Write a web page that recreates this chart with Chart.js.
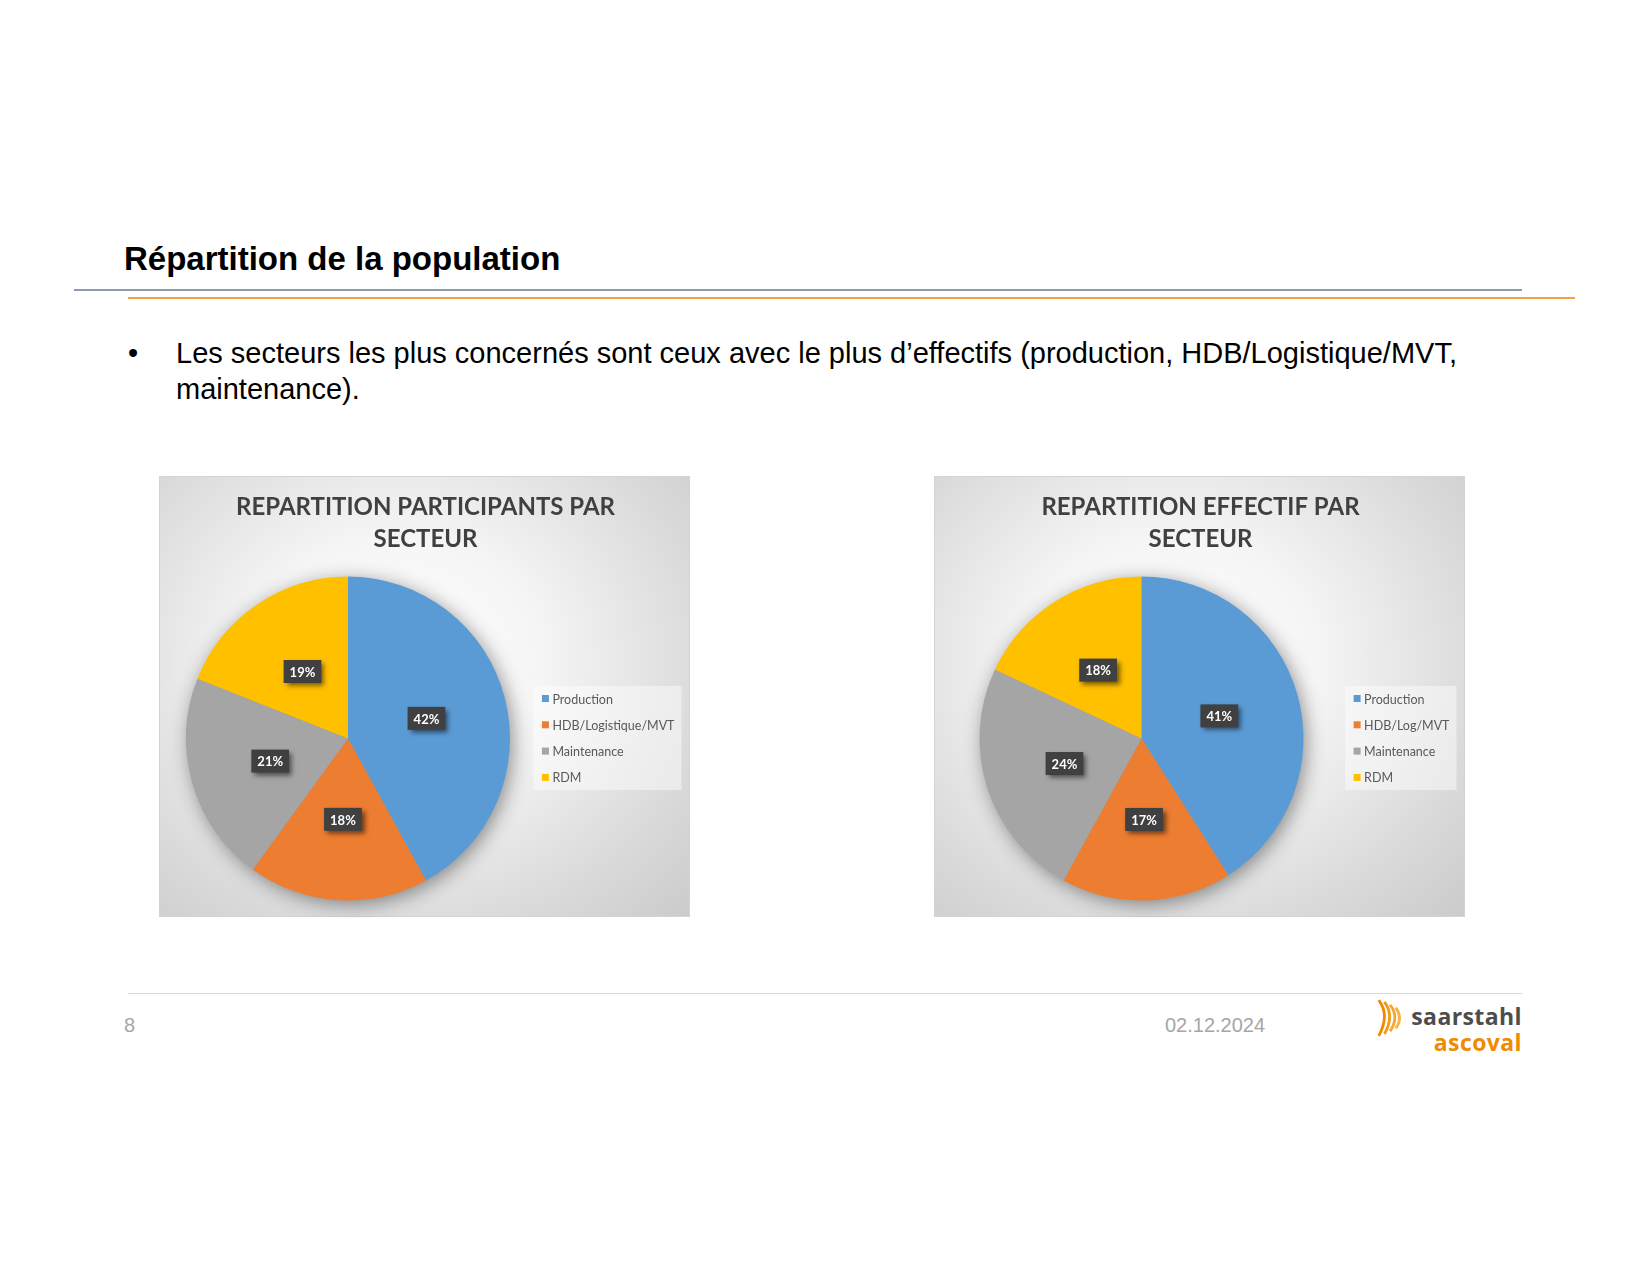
<!DOCTYPE html>
<html>
<head>
<meta charset="utf-8">
<script src="https://cdn.jsdelivr.net/npm/chart.js@4/dist/chart.umd.min.js"></script>
<style>
body{margin:0;width:1650px;height:1275px;background:#fff;position:relative;overflow:hidden;font-family:"Liberation Sans",Arial,sans-serif;}
.abs{position:absolute;}
#slideTitle{left:124px;top:239px;font-size:33px;font-weight:bold;line-height:40px;color:#000;}
#line1{left:74px;top:289px;width:1448px;height:2px;background:#8a9bb3;}
#line2{left:128px;top:297px;width:1447px;height:2px;background:#f3a04a;}
#bullet{left:128px;top:335px;font-size:29px;line-height:36px;}
#btext{left:176px;top:335px;font-size:29px;line-height:36px;width:1440px;}
.box{top:476px;width:531px;height:441px;border:1px solid #d4d4d4;box-sizing:border-box;
background:radial-gradient(ellipse at 45% 42%,#ffffff 0%,#f5f5f5 35%,#dadada 75%,#cbcbcb 100%);}
#foot{left:128px;top:993px;width:1394px;height:1px;background:#d9d9d9;}
#page{left:124px;top:1014px;font-size:20px;color:#a6a6a6;}
#date{left:1165px;top:1014px;font-size:20px;color:#a6a6a6;}
#logo1{right:128px;top:1002px;font-family:"Open Sans",sans-serif;font-weight:bold;font-size:23px;color:#4d4d4d;line-height:28px;letter-spacing:0.4px;}
#logo2{right:128px;top:1028px;font-family:"Open Sans",sans-serif;font-weight:bold;font-size:23px;color:#f08a00;line-height:28px;letter-spacing:0.4px;}
</style>
</head>
<body>
<div id="slideTitle" class="abs">Répartition de la population</div>
<div id="line1" class="abs"></div>
<div id="line2" class="abs"></div>
<div id="bullet" class="abs">•</div>
<div id="btext" class="abs">Les secteurs les plus concernés sont ceux avec le plus d’effectifs (production, HDB/Logistique/MVT,<br>maintenance).</div>

<div class="abs box" style="left:159px"><canvas id="c1" width="531" height="441"></canvas></div>
<div class="abs box" style="left:934px"><canvas id="c2" width="531" height="441"></canvas></div>

<div id="foot" class="abs"></div>
<div id="page" class="abs">8</div>
<div id="date" class="abs">02.12.2024</div>
<svg class="abs" style="left:1375px;top:998px" width="34" height="40" viewBox="0 0 36 42">
<path d="M4 2 Q16 18 4 40" stroke="#f08a00" stroke-width="3" fill="none"/>
<path d="M10 4 Q21 19 10 38" stroke="#f39a1a" stroke-width="3" fill="none"/>
<path d="M16 7 Q26 20 16 35" stroke="#f5a830" stroke-width="3" fill="none"/>
<path d="M22 10 Q30 21 22 32" stroke="#f7b648" stroke-width="3" fill="none"/>
</svg>
<div id="logo1" class="abs">saarstahl</div>
<div id="logo2" class="abs">ascoval</div>

<script>
// chart data
const sectorsParticipants=["Production","HDB/Logistique/MVT","Maintenance","RDM"];
const sectorsEffectif=["Production","HDB/Log/MVT","Maintenance","RDM"];
const participants=[42,18,21,19];
const effectif=[41,17,24,18];
const titleParticipants=["REPARTITION PARTICIPANTS PAR","SECTEUR"];
const titleEffectif=["REPARTITION EFFECTIF PAR","SECTEUR"];

const sliceColors=["#5b9bd5","#ed7d31","#a5a5a5","#ffc000"];

const decor={
id:"decor",

beforeDatasetsDraw(chart){
const ctx=chart.ctx;
const arc=chart.getDatasetMeta(0).data[0];
ctx.save();
ctx.shadowColor="rgba(0,0,0,0.45)";
ctx.shadowBlur=20;
ctx.shadowOffsetX=3;
ctx.shadowOffsetY=4;
ctx.beginPath();
ctx.arc(arc.x,arc.y,arc.outerRadius-1,0,Math.PI*2);
ctx.fillStyle="#999";
ctx.fill();
ctx.restore();
},

afterDatasetsDraw(chart,args,opts){
const ctx=chart.ctx;
const meta=chart.getDatasetMeta(0);
const values=chart.data.datasets[0].data;

// labels
ctx.save();
ctx.font="bold 13px Lato";
ctx.textAlign="center";
ctx.textBaseline="middle";
meta.data.forEach((arc,i)=>{
const p=arc.tooltipPosition();
const txt=values[i]+"%";
const w=ctx.measureText(txt).width+12;
const h=23;
ctx.save();
ctx.shadowColor="rgba(0,0,0,0.55)";
ctx.shadowBlur=5;
ctx.shadowOffsetX=3;
ctx.shadowOffsetY=3;
ctx.fillStyle="#404040";
ctx.fillRect(p.x-w/2,p.y-h/2,w,h);
ctx.restore();
ctx.fillStyle="#fff";
ctx.fillText(txt,p.x,p.y+1);
});
ctx.restore();

// title
ctx.save();
ctx.font="bold 24px Lato";
ctx.fillStyle="#404040";
ctx.textAlign="center";
ctx.textBaseline="middle";
opts.title.forEach((t,i)=>{
ctx.fillText(t,chart.width/2,30+i*32.6);
});
ctx.restore();

// legend
ctx.save();
ctx.font="12.5px Lato";
const labels=chart.data.labels;
let maxW=0;
labels.forEach(l=>{maxW=Math.max(maxW,ctx.measureText(l).width);});
const right=chart.width-9.5;
const left=right-7-maxW-19;
const top=209;
const step=26.3;
ctx.fillStyle="rgba(255,255,255,0.45)";
ctx.fillRect(left,top,right-left,104);
ctx.textBaseline="middle";
labels.forEach((l,i)=>{
const y=top+12.5+i*step;
ctx.fillStyle=sliceColors[i];
ctx.fillRect(left+8.5,y-3.5,7,7);
ctx.fillStyle="#595959";
ctx.fillText(l,left+19,y+1);
});
ctx.restore();
}
};

function makePie(id,labels,values,title,padLeft){
new Chart(document.getElementById(id),{
type:"pie",
data:{
labels:labels,
datasets:[{
data:values,
backgroundColor:sliceColors,
borderWidth:0
}]
},
options:{
responsive:false,
animation:false,
layout:{
padding:{left:padLeft,top:99.5,right:207-padLeft,bottom:17.5}
},
plugins:{
legend:{display:false},
tooltip:{enabled:false},
decor:{title:title}
}
},
plugins:[decor]
});
}

makePie("c1",sectorsParticipants,participants,titleParticipants,26);
makePie("c2",sectorsEffectif,effectif,titleEffectif,44.5);
</script>
</body>
</html>
